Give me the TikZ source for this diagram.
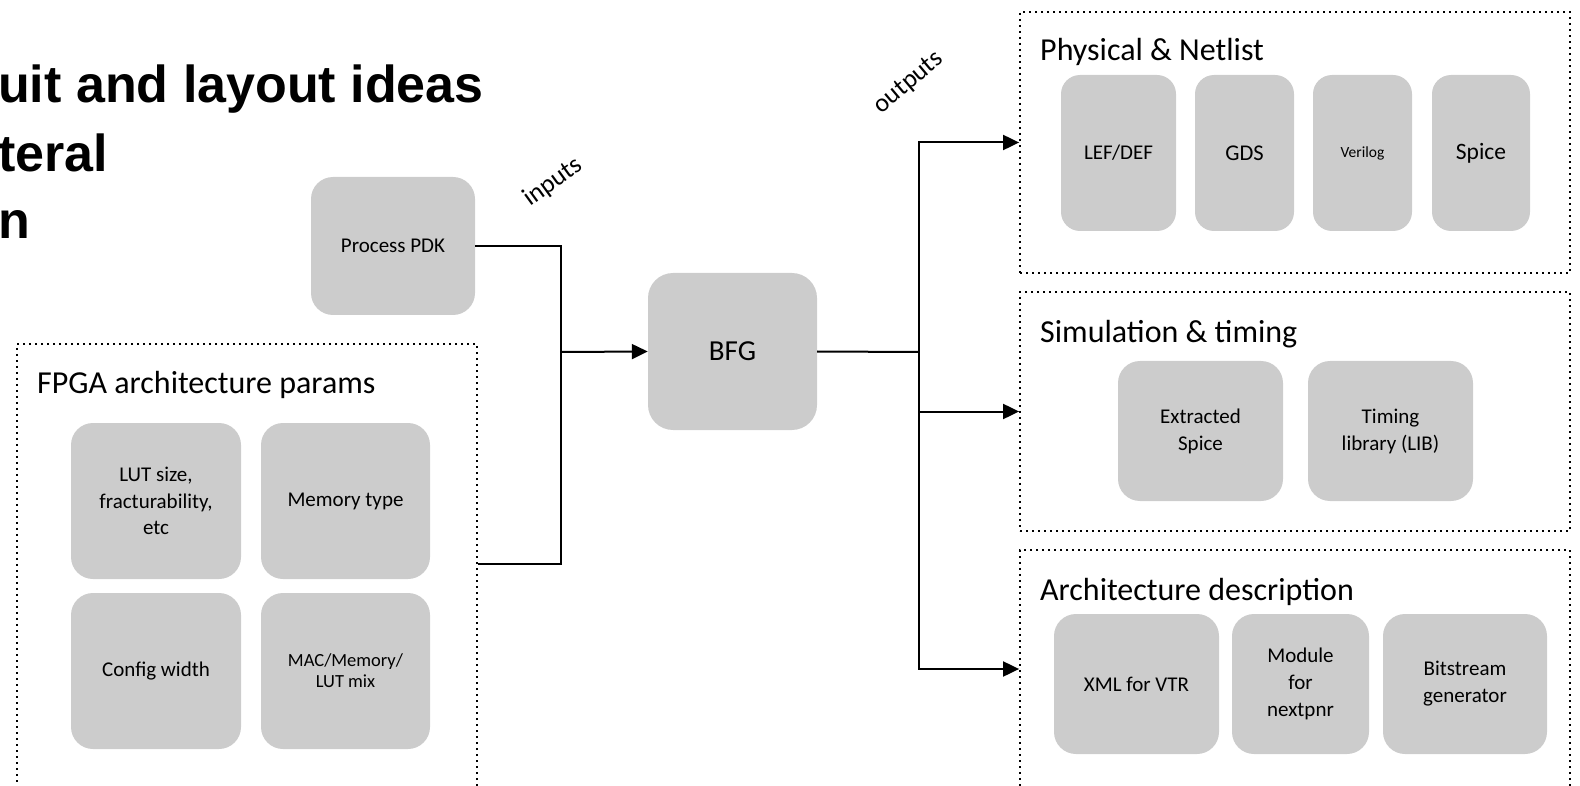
\documentclass[tikz,border=0pt]{standalone}
\usepackage{fontspec}
\setmainfont{Carlito}
\newfontfamily\titlefont{Liberation Sans}
\usetikzlibrary{arrows.meta}
\definecolor{boxgray}{HTML}{CCCCCC}
\begin{document}
\begin{tikzpicture}[x=1pt,y=-1pt,
  gbox/.style={rectangle, rounded corners=22pt, fill=boxgray, draw=none, align=center, inner sep=0pt, font=\fontsize{21}{26.5}\selectfont},
  grp/.style={rectangle, draw=black, line width=1.8pt, dash pattern=on 1.8pt off 4.2pt, inner sep=0pt},
  conn/.style={line width=2pt, draw=black},
  arr/.style={conn, -{Triangle[length=16pt,width=15pt]}},
  grptitle/.style={anchor=base west, inner sep=0pt, font=\fontsize{32}{38}\selectfont},
  ttl/.style={anchor=base west, inner sep=0pt, font=\titlefont\bfseries\fontsize{52}{60}\selectfont},
  lbl/.style={inner sep=0pt, font=\fontsize{26}{30}\selectfont}
]
\useasboundingbox (0,0) rectangle (1580,786);
\clip (0,0) rectangle (1580,786);

% title fragments
\node[ttl] (t1) at (-2,103) {uit and layout ideas};
\node[ttl] (t2) at (-2,172) {teral};
\node[ttl] (t3) at (-2,239) {n};

% groups
\node[grp, minimum width=460pt, minimum height=456pt] (fpga) at (247,572) {};
\node[grptitle] (fpgat) at (37,393) {FPGA architecture params};
\node[grp, minimum width=550pt, minimum height=261pt] (phys) at (1295,142.5) {};
\node[grptitle] (physt) at (1040,61) {Physical \& Netlist};
\node[grp, minimum width=550pt, minimum height=239pt] (sim) at (1295,411.5) {};
\node[grptitle] (simt) at (1040,342) {Simulation \& timing};
\node[grp, minimum width=550pt, minimum height=238pt] (arch) at (1295,669) {};
\node[grptitle] (archt) at (1040,600) {Architecture description};

% input boxes
\node[gbox, minimum width=164pt, minimum height=138pt] (pdk) at (393,246) {Process PDK};
\node[gbox, minimum width=170pt, minimum height=156pt] (lut) at (156,501) {LUT size,\\fracturability,\\etc};
\node[gbox, minimum width=169pt, minimum height=156pt] (mem) at (345.5,501) {Memory type};
\node[gbox, minimum width=170pt, minimum height=156pt] (cfg) at (156,671) {Config width};
\node[gbox, minimum width=169pt, minimum height=156pt, font=\fontsize{18.5}{21}\selectfont] (mac) at (345.5,671) {MAC/Memory/\\LUT mix};

% BFG
\node[gbox, rounded corners=25pt, minimum width=169pt, minimum height=157pt, font=\fontsize{29}{34}\selectfont] (bfg) at (732.5,351.5) {BFG};

% physical & netlist
\node[gbox, rounded corners=19pt, minimum width=115pt, minimum height=156pt, font=\fontsize{21}{25}\selectfont] (lef) at (1118.5,153) {LEF/DEF};
\node[gbox, rounded corners=19pt, minimum width=99pt, minimum height=156pt, font=\fontsize{22.5}{26}\selectfont] (gds) at (1244.5,153) {GDS};
\node[gbox, rounded corners=19pt, minimum width=99pt, minimum height=156pt, font=\fontsize{15.5}{19}\selectfont] (ver) at (1362.5,153) {Verilog};
\node[gbox, rounded corners=19pt, minimum width=98pt, minimum height=156pt, font=\fontsize{23.5}{27}\selectfont] (spi) at (1481,153) {Spice};

% simulation
\node[gbox, minimum width=165pt, minimum height=140pt, font=\fontsize{21}{27}\selectfont] (ext) at (1200.5,431) {Extracted\\Spice};
\node[gbox, minimum width=165pt, minimum height=140pt, font=\fontsize{21}{27}\selectfont] (tim) at (1390.5,431) {Timing\\library (LIB)};

% architecture
\node[gbox, minimum width=165pt, minimum height=140pt] (xml) at (1136.5,684) {XML for VTR};
\node[gbox, minimum width=137pt, minimum height=140pt, font=\fontsize{21}{27}\selectfont] (mod) at (1300.5,684) {Module\\for\\nextpnr};
\node[gbox, minimum width=164pt, minimum height=140pt, font=\fontsize{21}{27}\selectfont] (bit) at (1465,684) {Bitstream\\generator};

% labels
\node[lbl, rotate=36] (inl) at (553,182) {inputs};
\node[lbl, rotate=40] (outl) at (909,83) {outputs};

% connectors
\coordinate (jin) at (561,352);
\coordinate (jlow) at (561,564);
\coordinate (jout) at (919,352);
\draw[conn] (pdk.east) -| (jin);
\draw[conn] (jlow -| fpga.east) -- (jlow) -- (jin);
\draw[arr] (jin) -- (bfg.west);
\draw[conn] (bfg.east) -- (jout);
\draw[arr] (jout) |- (phys.west);
\draw[arr] (jout) |- (sim.west);
\draw[arr] (jout) |- (arch.west);
\end{tikzpicture}
\end{document}
